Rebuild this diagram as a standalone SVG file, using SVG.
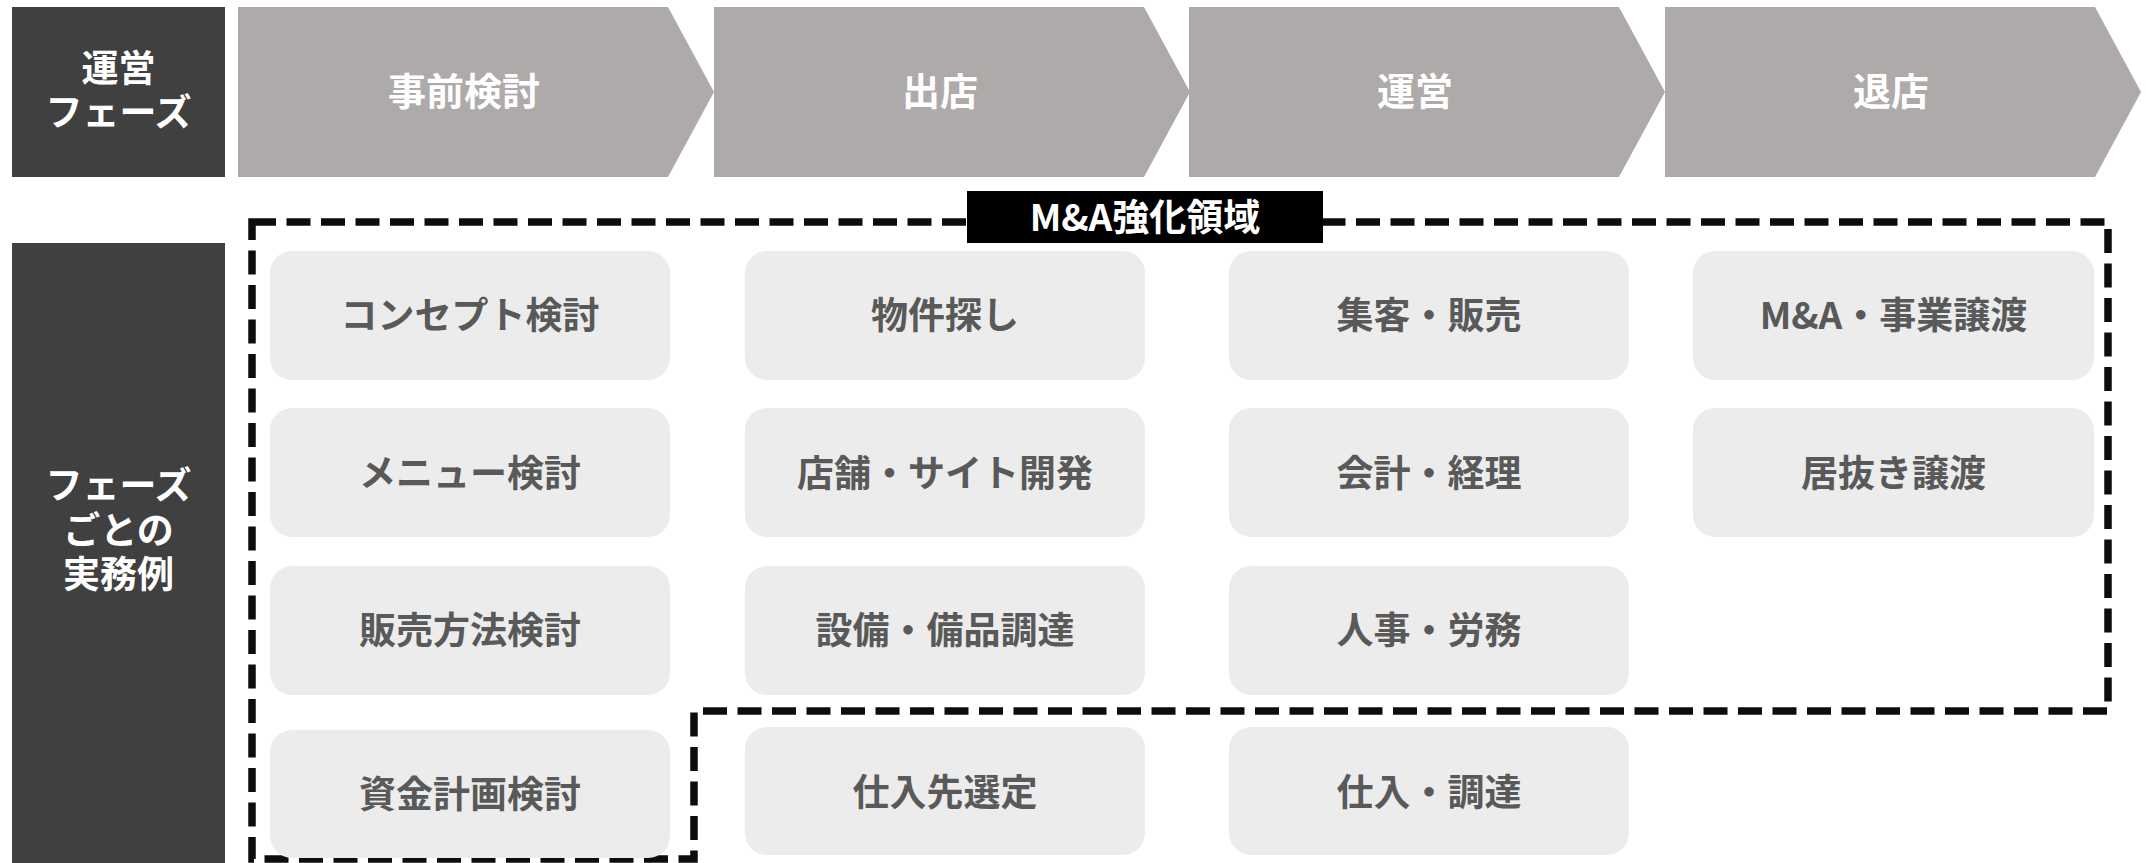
<svg xmlns="http://www.w3.org/2000/svg" width="2156" height="863" viewBox="0 0 2156 863">
<style>
.dark{fill:#404040}
.chev{fill:#aeaaa9}
.card{fill:#ececec}
.t{font-family:"Noto Sans CJK JP","Noto Sans",sans-serif;font-weight:bold;text-anchor:middle;dominant-baseline:central}
.side{fill:#ffffff;font-size:37px}
.ph{fill:#ffffff;font-size:38px}
.ct{fill:#595959;font-size:37px}
.lb{fill:#ffffff;font-size:37px}
.dash{fill:none;stroke:#0d0d0d;stroke-width:7.5;stroke-dasharray:24 10.5}
</style>
<rect width="2156" height="863" fill="#ffffff"/>
<g id="label-phase">
<rect class="dark" x="12" y="7" width="213" height="170"/>
<text class="t side" x="118.5" y="66">運営</text>
<text class="t side" x="118.5" y="109.5">フェーズ</text>
</g>
<g id="label-examples">
<rect class="dark" x="12" y="243" width="213" height="620"/>
<text class="t side" x="118.5" y="483">フェーズ</text>
<text class="t side" x="118.5" y="528">ごとの</text>
<text class="t side" x="118.5" y="572">実務例</text>
</g>
<g id="phase-1">
<polygon class="chev" points="238,7 668,7 714,92 668,177 238,177"/>
<text class="t ph" x="464" y="88">事前検討</text>
</g>
<g id="phase-2">
<polygon class="chev" points="714,7 1144,7 1190,92 1144,177 714,177"/>
<text class="t ph" x="940" y="88">出店</text>
</g>
<g id="phase-3">
<polygon class="chev" points="1189,7 1619,7 1665,92 1619,177 1189,177"/>
<text class="t ph" x="1415" y="88">運営</text>
</g>
<g id="phase-4">
<polygon class="chev" points="1665,7 2095,7 2141,92 2095,177 1665,177"/>
<text class="t ph" x="1891" y="88">退店</text>
</g>
<g id="connectors">
<path class="dash" d="M252,222 H2108 V711 H694 V859 H252 Z"/>
</g>
<g id="ma-label">
<rect x="967" y="191" width="356" height="52" fill="#000000"/>
<text class="t lb" x="1145" y="214.5">M&amp;A強化領域</text>
</g>
<g id="c1r1"><rect class="card" x="270" y="251" width="400" height="129" rx="22"/><text class="t ct" x="470" y="312.5">コンセプト検討</text></g>
<g id="c1r2"><rect class="card" x="270" y="408" width="400" height="129" rx="22"/><text class="t ct" x="470" y="470.5">メニュー検討</text></g>
<g id="c1r3"><rect class="card" x="270" y="566" width="400" height="129" rx="22"/><text class="t ct" x="470" y="628">販売方法検討</text></g>
<g id="c1r4"><rect class="card" x="270" y="730" width="400" height="128" rx="22"/><text class="t ct" x="470" y="792">資金計画検討</text></g>
<g id="c2r1"><rect class="card" x="745" y="251" width="400" height="129" rx="22"/><text class="t ct" x="945" y="312.5">物件探し</text></g>
<g id="c2r2"><rect class="card" x="745" y="408" width="400" height="129" rx="22"/><text class="t ct" x="945" y="470.5">店舗・サイト開発</text></g>
<g id="c2r3"><rect class="card" x="745" y="566" width="400" height="129" rx="22"/><text class="t ct" x="945" y="628">設備・備品調達</text></g>
<g id="c2r4"><rect class="card" x="745" y="727" width="400" height="128" rx="22"/><text class="t ct" x="945" y="790">仕入先選定</text></g>
<g id="c3r1"><rect class="card" x="1229" y="251" width="400" height="129" rx="22"/><text class="t ct" x="1429" y="312.5">集客・販売</text></g>
<g id="c3r2"><rect class="card" x="1229" y="408" width="400" height="129" rx="22"/><text class="t ct" x="1429" y="470.5">会計・経理</text></g>
<g id="c3r3"><rect class="card" x="1229" y="566" width="400" height="129" rx="22"/><text class="t ct" x="1429" y="628">人事・労務</text></g>
<g id="c3r4"><rect class="card" x="1229" y="727" width="400" height="128" rx="22"/><text class="t ct" x="1429" y="790">仕入・調達</text></g>
<g id="c4r1"><rect class="card" x="1693" y="251" width="401" height="129" rx="22"/><text class="t ct" x="1893.5" y="312.5">M&amp;A・事業譲渡</text></g>
<g id="c4r2"><rect class="card" x="1693" y="408" width="401" height="129" rx="22"/><text class="t ct" x="1893.5" y="470.5">居抜き譲渡</text></g>
</svg>
